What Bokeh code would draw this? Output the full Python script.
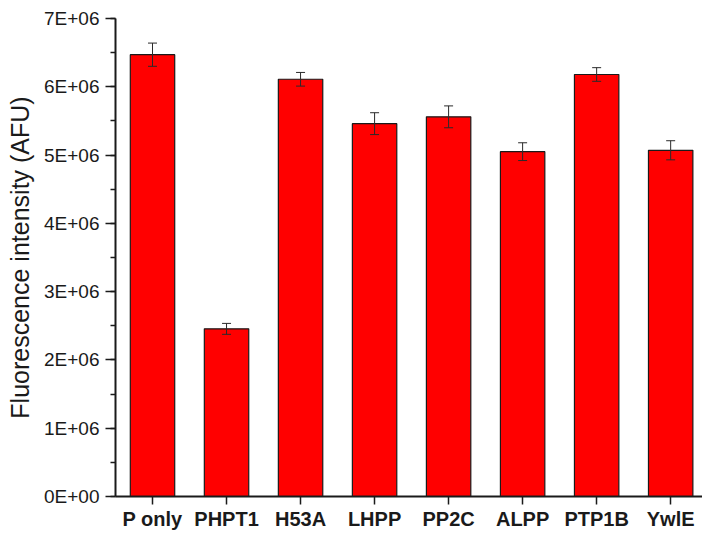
from bokeh.plotting import figure
from bokeh.models import (ColumnDataSource, Whisker, TeeHead, FixedTicker,
                          SingleIntervalTicker, Range1d)
from bokeh.embed import file_html
from bokeh.resources import INLINE

categories = ["P only", "PHPT1", "H53A", "LHPP", "PP2C", "ALPP", "PTP1B", "YwlE"]
values = [6.47e6, 2.455e6, 6.11e6, 5.46e6, 5.56e6, 5.05e6, 6.18e6, 5.07e6]
errors = [0.17e6, 0.08e6, 0.10e6, 0.16e6, 0.16e6, 0.13e6, 0.10e6, 0.14e6]
y_tick_values = [0, 1e6, 2e6, 3e6, 4e6, 5e6, 6e6, 7e6]
y_tick_labels = ["0E+00", "1E+06", "2E+06", "3E+06", "4E+06", "5E+06", "6E+06", "7E+06"]

xs = list(range(len(categories)))
src = ColumnDataSource(dict(
    x=xs,
    top=values,
    upper=[v + e for v, e in zip(values, errors)],
    lower=[v - e for v, e in zip(values, errors)],
))

FONT = "Liberation Sans"

p = figure(width=702, height=533, output_backend="svg", toolbar_location=None,
           x_range=Range1d(-0.5, 7.43), y_range=Range1d(0, 7e6),
           min_border_left=115, min_border_right=0, min_border_top=18,
           min_border_bottom=37)
p.outline_line_color = None
p.grid.visible = False
p.background_fill_color = "white"
p.border_fill_color = "white"

p.vbar(x="x", top="top", width=0.6, bottom=0, source=src,
       fill_color="#ff0000", line_color="#1a1a1a", line_width=1.2)

w = Whisker(base="x", upper="upper", lower="lower", source=src, level="overlay",
            line_color="#2a2a2a", line_width=1,
            upper_head=TeeHead(size=9, line_color="#2a2a2a", line_width=1),
            lower_head=TeeHead(size=9, line_color="#2a2a2a", line_width=1))
p.add_layout(w)

# y axis
p.yaxis.ticker = SingleIntervalTicker(interval=1e6, num_minor_ticks=2)
p.yaxis.major_label_overrides = {int(v): lab for v, lab in zip(y_tick_values, y_tick_labels)}
p.yaxis.axis_label = "Fluorescence intensity (AFU)"
p.yaxis.axis_label_text_font = FONT
p.yaxis.axis_label_text_font_size = "25px"
p.yaxis.axis_label_text_font_style = "normal"
p.yaxis.axis_label_text_color = "#1a1a1a"
p.yaxis.axis_label_standoff = 7
p.yaxis.major_label_text_font = FONT
p.yaxis.major_label_text_font_size = "19px"
p.yaxis.major_label_text_color = "#1a1a1a"
p.yaxis.major_label_standoff = 6
p.yaxis.major_tick_out = 10
p.yaxis.major_tick_in = 0
p.yaxis.minor_tick_out = 5
p.yaxis.minor_tick_in = 0

# x axis
p.xaxis.ticker = FixedTicker(ticks=xs)
p.xaxis.major_label_overrides = {i: c for i, c in zip(xs, categories)}
p.xaxis.major_label_text_font = FONT
p.xaxis.major_label_text_font_size = "20px"
p.xaxis.major_label_text_font_style = "bold"
p.xaxis.major_label_text_color = "#1a1a1a"
p.xaxis.major_label_standoff = 3
p.xaxis.major_tick_out = 8
p.xaxis.major_tick_in = 0
p.xaxis.minor_tick_line_color = None

for ax in (p.xaxis, p.yaxis):
    ax.axis_line_color = "#1a1a1a"
    ax.axis_line_width = 2
    ax.major_tick_line_color = "#1a1a1a"
    ax.major_tick_line_width = 1.5
    ax.minor_tick_line_width = 1.5

p.yaxis.minor_tick_line_color = "#1a1a1a"

open("out.html", "w").write(file_html(p, INLINE))
